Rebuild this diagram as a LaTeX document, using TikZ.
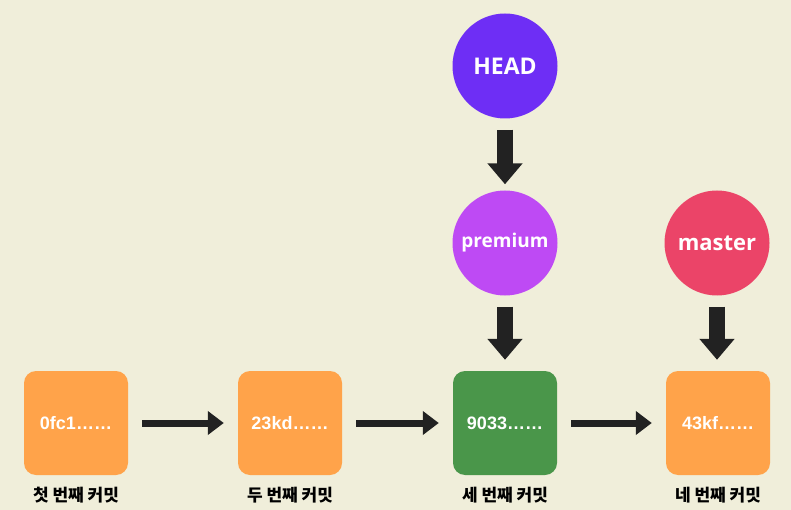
\documentclass[tikz,border=0pt]{standalone}
\usepackage{fontspec}
\setmainfont{Liberation Sans}
\newfontfamily\krfont{Noto Sans CJK KR}
\newfontfamily\tagfont{Open Sans}
\usetikzlibrary{arrows.meta}
\definecolor{bg}{HTML}{F0EEDA}
\definecolor{orangec}{HTML}{FFA34A}
\definecolor{greenc}{HTML}{4A964A}
\definecolor{headc}{HTML}{6E2EF5}
\definecolor{premc}{HTML}{BE4AF4}
\definecolor{masterc}{HTML}{EB4468}
\definecolor{arrowc}{HTML}{222222}
\tikzset{
  commit/.style={rectangle, rounded corners=12pt, minimum size=104pt, inner sep=0pt,
    text=white, font=\fontsize{18}{18}\selectfont\bfseries},
  branch/.style={circle, minimum size=105pt, inner sep=0pt, text=white},
  msg/.style={inner sep=0pt, font=\krfont\bfseries\fontsize{17}{17}\selectfont},
  hlink/.style={draw=arrowc, line width=7pt, -{Triangle[width=23pt,length=16pt]},
    shorten <=14pt, shorten >=14pt},
  vlink/.style={draw=arrowc, line width=16pt, -{Triangle[width=34pt,length=21pt]},
    shorten <=11pt, shorten >=11pt}
}
\begin{document}
\begin{tikzpicture}[x=1pt,y=-1pt]
		\fill[bg] (0,0) rectangle (791,510);
		\useasboundingbox (0,0) rectangle (791,510);
		% commits
		\node[commit,fill=orangec] (c1) at (76,423) {0fc1……};
		\node[commit,fill=orangec] (c2) at (290,423) {23kd……};
		\node[commit,fill=greenc] (c3) at (505,423) {9033……};
		\node[commit,fill=orangec] (c4) at (718,423) {43kf……};
		\node[msg] (m1) at (76,495) {첫 번째 커밋};
		\node[msg] (m2) at (290,495) {두 번째 커밋};
		\node[msg] (m3) at (505,495) {세 번째 커밋};
		\node[msg] (m4) at (718,495) {네 번째 커밋};
		% branches
		\node[branch,fill=headc,font=\tagfont\bfseries\fontsize{23}{23}\selectfont] (head) at (505,66) {HEAD};
		\node[branch,fill=premc,font=\tagfont\bfseries\fontsize{19}{19}\selectfont] (prem) at (505,243) {premium};
		\node[branch,fill=masterc,font=\tagfont\bfseries\fontsize{22}{22}\selectfont] (mast) at (717,243) {master};
		% links
		\draw[hlink] (c1) -- (c2);
		\draw[hlink] (c2) -- (c3);
		\draw[hlink] (c3) -- (c4);
		\draw[vlink,shorten >=6pt] (head) -- (prem);
		\draw[vlink] (prem) -- (c3);
		\draw[vlink] (mast.south) -- (mast.south |- c4.north);
	\end{tikzpicture}
\end{document}
